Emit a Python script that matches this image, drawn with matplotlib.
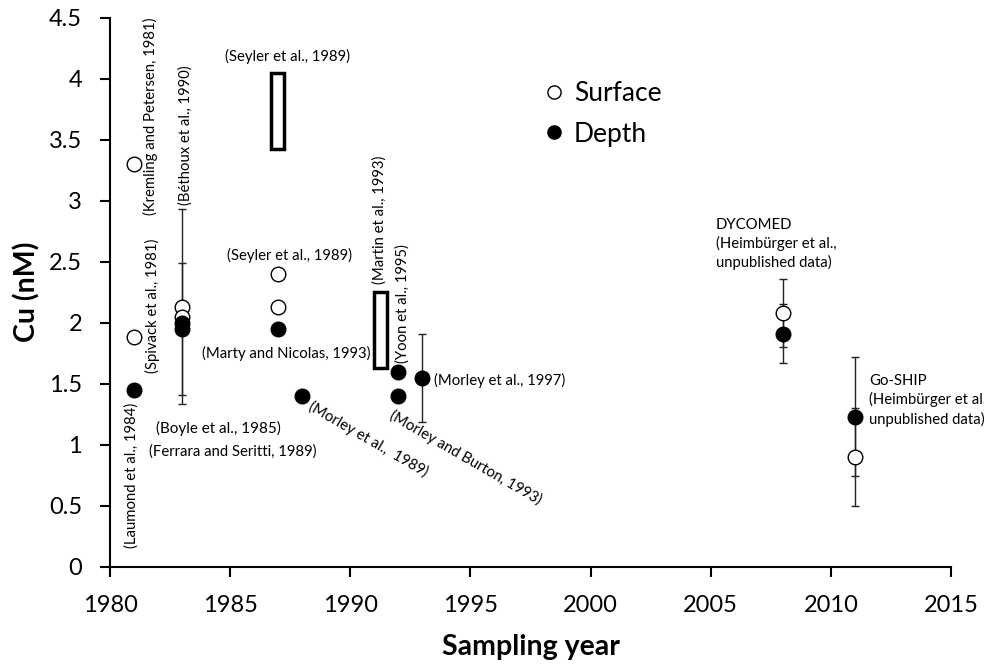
import matplotlib
matplotlib.use("Agg")
import matplotlib.pyplot as plt
from matplotlib.lines import Line2D

plt.rcParams['font.family'] = ['Lato', 'DejaVu Sans']

# ---- data ----
surface_year = [1981, 1981, 1983, 1983, 1987, 1987, 2008, 2011]
surface_cu = [3.30, 1.88, 2.13, 2.05, 2.40, 2.13, 2.08, 0.90]

depth_year = [1981, 1983, 1983, 1987, 1988, 1992, 1992, 1993, 2008, 2011]
depth_cu = [1.45, 2.00, 1.95, 1.95, 1.40, 1.60, 1.40, 1.55, 1.91, 1.23]

surf_err_year = [1983, 2008, 2011]
surf_err_cu = [2.13, 2.08, 0.90]
surf_err = [0.80, 0.28, 0.40]

depth_err_year = [1983, 1993, 2008, 2011]
depth_err_cu = [1.95, 1.55, 1.91, 1.23]
depth_err = [0.54, 0.36, 0.24, 0.49]

range_year = [1986.96, 1991.26]
range_lo = [3.42, 1.63]
range_hi = [4.05, 2.25]

x_ticks = [1980, 1985, 1990, 1995, 2000, 2005, 2010, 2015]
y_ticks = [0, 0.5, 1, 1.5, 2, 2.5, 3, 3.5, 4, 4.5]

# ---- figure ----
fig = plt.figure(figsize=(9.84, 6.64), dpi=100)
ax = fig.add_axes([0.1118, 0.1465, 0.8547, 0.8268])

ax.errorbar(surf_err_year, surf_err_cu, yerr=surf_err, fmt='none', ecolor='#222222',
            elinewidth=1, capsize=2.6, capthick=1, zorder=2)
ax.errorbar(depth_err_year, depth_err_cu, yerr=depth_err, fmt='none', ecolor='#222222',
            elinewidth=1, capsize=2.6, capthick=1, zorder=2)

heights = [h - l for h, l in zip(range_hi, range_lo)]
ax.bar(range_year, heights, bottom=range_lo, width=0.55, color='white',
       edgecolor='black', linewidth=2.5, zorder=3)

ax.plot(surface_year, surface_cu, 'o', ms=10.5, mfc='white', mec='black', mew=1, zorder=4)
ax.plot(depth_year, depth_cu, 'o', ms=10.5, mfc='black', mec='black', mew=1, zorder=5)

# ---- annotations ----
fs = 10.7
notes = [
    ("(Kremling and Petersen, 1981)", 1981.7, 3.69, 90, 'center', 'center', fs),
    ("(Béthoux et al., 1990)", 1983.15, 3.54, 90, 'center', 'center', fs),
    ("(Spivack et al., 1981)", 1981.75, 2.14, 90, 'center', 'center', fs),
    ("(Laumond et al., 1984)", 1980.9, 0.75, 90, 'center', 'center', fs),
    ("(Seyler et al., 1989)", 1987.4, 4.18, 0, 'center', 'center', fs),
    ("(Seyler et al., 1989)", 1987.45, 2.55, 0, 'center', 'center', fs),
    ("(Marty and Nicolas, 1993)", 1987.35, 1.75, 0, 'center', 'center', fs),
    ("(Boyle et al., 1985)", 1984.5, 1.13, 0, 'center', 'center', 11.0),
    ("(Ferrara and Seritti, 1989)", 1985.1, 0.94, 0, 'center', 'center', fs),
    ("(Martin et al., 1993)", 1991.2, 2.84, 90, 'center', 'center', fs),
    ("(Yoon et al., 1995)", 1992.17, 2.16, 90, 'center', 'center', fs),
    ("(Morley et al., 1997)", 1993.5, 1.53, 0, 'left', 'center', fs),
]
for t, x, y, r, ha, va, f in notes:
    ax.text(x, y, t, rotation=r, ha=ha, va=va, fontsize=f, zorder=6)

ax.text(1988.3, 1.32, "(Morley et al.,  1989)", rotation=-30, rotation_mode='anchor',
        ha='left', va='center', fontsize=fs)
ax.text(1991.7, 1.25, "(Morley and Burton, 1993)", rotation=-30, rotation_mode='anchor',
        ha='left', va='center', fontsize=fs)
ax.text(2005.2, 2.86, "DYCOMED\n(Heimbürger et al.,\nunpublished data)", ha='left', va='top',
        fontsize=fs, linespacing=1.35)
ax.text(2011.6, 1.58, "Go-SHIP\n(Heimbürger et al.,\nunpublished data)", ha='left', va='top',
        fontsize=fs, linespacing=1.35, clip_on=False)

# ---- legend ----
handles = [
    Line2D([], [], ls='none', marker='o', ms=9.5, mfc='white', mec='black', mew=1),
    Line2D([], [], ls='none', marker='o', ms=9.5, mfc='black', mec='black', mew=1),
]
ax.legend(handles, ['Surface', 'Depth'], loc='upper left', bbox_to_anchor=(0.514, 0.885),
          frameon=False, fontsize=19, handlelength=0.85, handletextpad=0.35,
          labelspacing=0.6, borderpad=0, borderaxespad=0)

# ---- axes ----
ax.set_xlim(1980, 2015)
ax.set_ylim(0, 4.5)
ax.set_xticks(x_ticks)
ax.set_yticks(y_ticks)
ax.set_yticklabels([f"{v:g}" for v in y_ticks])
for s in ['top', 'right']:
    ax.spines[s].set_visible(False)
for s in ['left', 'bottom']:
    ax.spines[s].set_linewidth(1.5)
ax.tick_params(axis='both', direction='out', length=7, width=1.5, labelsize=17, pad=13)
ax.set_xlabel("Sampling year", fontsize=20.5, fontweight='bold', labelpad=13)
ax.set_ylabel("Cu (nM)", fontsize=20.5, fontweight='bold', labelpad=6)

fig.savefig("out.png", dpi=100)
